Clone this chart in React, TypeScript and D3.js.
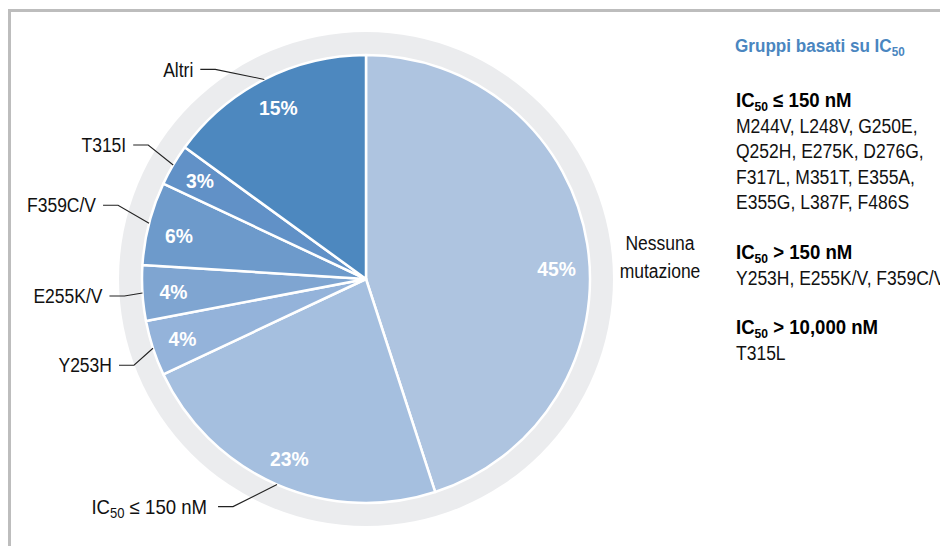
import React from "react";
import * as d3 from "d3";

const categories = ["Nessuna mutazione", "IC50 ≤ 150 nM", "Y253H", "E255K/V", "F359C/V", "T315I", "Altri"];
const values = [45, 23, 4, 4, 6, 3, 15];
const sliceColors = ["#aec4e0", "#a5bfdf", "#94b3da", "#7fa5d1", "#6d9acb", "#6191c7", "#4d88bf"];

const legendTitle = "Gruppi basati su IC";
const groupHeads = ["≤ 150 nM", "> 150 nM", "> 10,000 nM"];
const groupMembers = [
  ["M244V, L248V, G250E,", "Q252H, E275K, D276G,", "F317L, M351T, E355A,", "E355G, L387F, F486S"],
  ["Y253H, E255K/V, F359C/V"],
  ["T315L"],
];

// leader elbow offsets relative to slice edge point (layout only)
const leaderOffsets: Record<string, [number, number]> = {
  "Altri": [-49, -10],
  "T315I": [-25, -20],
  "F359C/V": [-31, -18],
  "E255K/V": [-18, 3],
  "Y253H": [-19, 17],
  "IC50 ≤ 150 nM": [-44, 22],
};
// small nudges of the percent labels (layout only)
const pctNudge: [number, number][] = [[0, 20], [0, 2], [0, 0], [0, 0], [0, 4], [0, 0], [0, 0]];

const W = 940, H = 546;
const cx = 366, cy = 279, R = 224, ringR = 247, labelR = 193;
const FONT = "'Liberation Sans', Arial, sans-serif";

type TProps = {
  x: number; y: number; sx?: number; anchor?: "start" | "middle" | "end";
  size?: number; weight?: string; fill?: string; dy?: string; children: React.ReactNode;
};
const T = ({ x, y, sx = 0.875, anchor = "start", size = 20, weight = "normal", fill = "#111", dy, children }: TProps) => (
  <g transform={`translate(${x},${y}) scale(${sx},1)`}>
    <text textAnchor={anchor} fontSize={size} fontWeight={weight} fill={fill} dy={dy}>
      {children}
    </text>
  </g>
);

const sub = (base: string, rest: string, subSize: number) => (
  <>
    {base}
    <tspan fontSize={subSize} dy={4}>50</tspan>
    <tspan dy={-4}>{rest}</tspan>
  </>
);

export default function App() {
  const pie = d3.pie<number>().sort(null).value((d) => d);
  const arcs = pie(values);
  const arc = d3.arc<d3.PieArcDatum<number>>().innerRadius(0).outerRadius(R);
  const labelArc = d3.arc<d3.PieArcDatum<number>>().innerRadius(labelR).outerRadius(labelR);
  const edgeArc = d3.arc<d3.PieArcDatum<number>>().innerRadius(R).outerRadius(R);

  return (
    <svg width={W} height={H} style={{ position: "absolute", left: 0, top: 0, fontFamily: FONT }}>
      <rect x={0} y={0} width={W} height={H} fill="#fff" />
      <line x1={8} x2={W} y1={10.5} y2={10.5} stroke="#bdbdbd" strokeWidth={3} />
      <line x1={9.5} x2={9.5} y1={9} y2={H} stroke="#bdbdbd" strokeWidth={3} />

      <circle cx={cx} cy={cy} r={ringR} fill="#ebecee" />
      <g transform={`translate(${cx},${cy})`}>
        {arcs.map((a, i) => (
          <path key={i} d={arc(a) || ""} fill={sliceColors[i]} stroke="#fff" strokeWidth={2.5} strokeLinejoin="round" />
        ))}
        {arcs.map((a, i) => {
          const [x, y] = labelArc.centroid(a);
          return (
            <T key={"p" + i} x={x + pctNudge[i][0]} y={y + pctNudge[i][1]} dy="0.36em" anchor="middle" fill="#fff" weight="bold" size={21} sx={0.92}>
              {values[i]}%
            </T>
          );
        })}
        {arcs.map((a, i) => {
          const name = categories[i];
          const off = leaderOffsets[name];
          if (!off) return null;
          const [ex, ey] = edgeArc.centroid(a);
          const bx = ex + off[0], by = ey + off[1];
          const hx = bx - 15;
          const isIC = name.startsWith("IC50");
          return (
            <g key={"l" + i}>
              <polyline points={`${hx},${by} ${bx},${by} ${ex},${ey}`} fill="none" stroke="#222" strokeWidth={1.1} />
              <T x={hx - (isIC ? 11 : 7)} y={by} dy="0.36em" anchor="end" size={20} sx={isIC ? 0.93 : 0.875}>
                {isIC ? sub("IC", name.slice(4), 14) : name}
              </T>
            </g>
          );
        })}
      </g>
      <T x={660} y={250} anchor="middle" size={20}>Nessuna</T>
      <T x={660} y={278} anchor="middle" size={20}>mutazione</T>

      <T x={735} y={52} size={19} weight="bold" fill="#4a86c0" sx={0.9}>
        {legendTitle}<tspan fontSize={13} dy={4}>50</tspan>
      </T>
      {groupHeads.map((h, gi) => {
        const y0 = [107, 259, 334][gi];
        return (
          <g key={"g" + gi}>
            <T x={736} y={y0} size={20} weight="bold" fill="#000" sx={0.93}>
              {sub("IC", " " + h, 13)}
            </T>
            {groupMembers[gi].map((m, mi) => (
              <T key={mi} x={736} y={y0 + 25.5 * (mi + 1)} size={20}>{m}</T>
            ))}
          </g>
        );
      })}
    </svg>
  );
}
